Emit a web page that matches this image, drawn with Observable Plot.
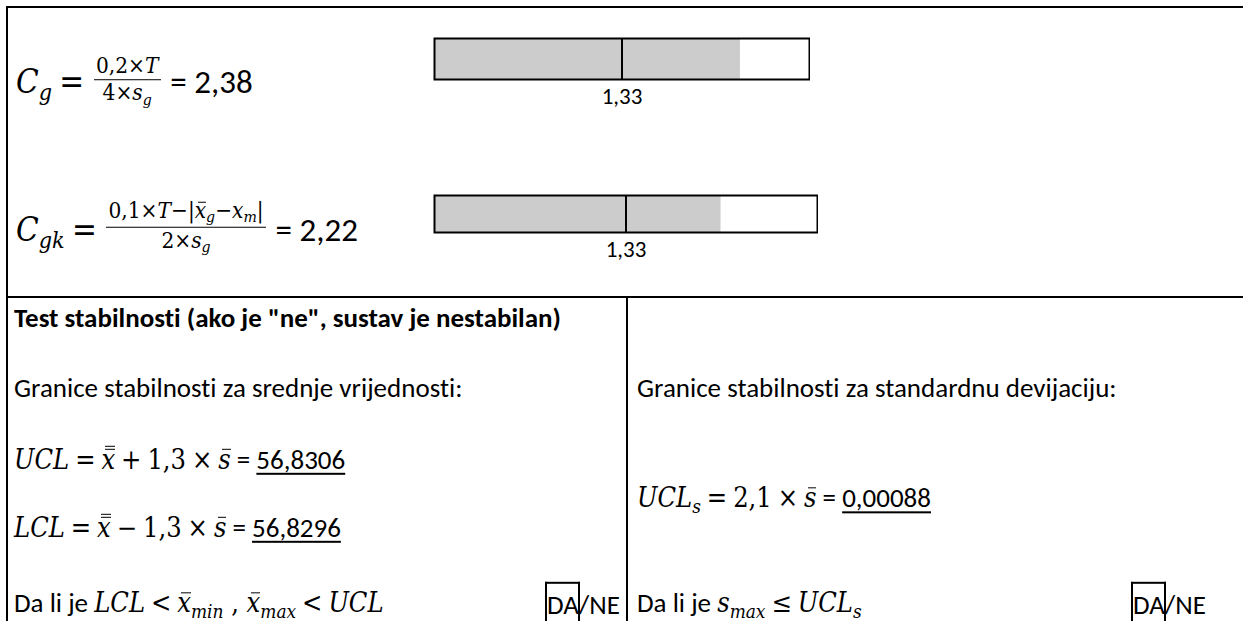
<!DOCTYPE html>
<html>
<head>
<meta charset="utf-8">
<script src="https://cdn.jsdelivr.net/npm/d3@7"></script>
<script src="https://cdn.jsdelivr.net/npm/@observablehq/plot@0.6"></script>
<style>
  html, body { margin:0; padding:0; background:#fff; }
  #page { position:relative; width:1243px; height:621px; overflow:hidden; background:#fff; color:#000;
          font-family: Carlito, Calibri, Lato, sans-serif; font-size:27px; font-variant-ligatures:none; }
  .line { position:absolute; background:#000; }
  .row { position:absolute; white-space:nowrap; line-height:1.2; transform:translateY(-50%); }
  .big { font-size:33px; }
  .m { font-family:"DejaVu Serif Condensed","DejaVu Serif",serif; font-style:italic; }
  .mu { font-family:"DejaVu Serif Condensed","DejaVu Serif",serif; font-style:normal; }
  .op { margin:0 0.22em; }
  .sub { font-size:0.7em; vertical-align:-0.3em; }
  .frac { display:inline-block; text-align:center; font-size:0.68em; vertical-align:-0.3em; margin:0 0.1em; }
  .frac > span { display:block; line-height:1.15; padding:0 0.1em; }
  .frac > .num { border-bottom:1.5px solid #000; }
  .ov, .ov2 { position:relative; display:inline-block; }
  .ov::before { content:""; position:absolute; left:0.15em; right:0; top:0.2em; border-top:1.5px solid #000; }
  .ov2::before { content:""; position:absolute; left:0.15em; right:0; top:0.08em; height:2px; border-top:1.5px solid #000; border-bottom:1.5px solid #000; }
  u { text-decoration-thickness:2px; text-underline-offset:4px; }
  .chosen { position:relative; }
  .chosen::after { content:""; position:absolute; left:-2px; right:-1px; top:-0.22em; bottom:-200px; border:2px solid #000; border-bottom:none; }
  .gauge { position:absolute; }
  b { font-weight:700; }
</style>
</head>
<body>
<div id="page"></div>
<script>
// ---- data ----
const indexSubs = ["g", "gk"];                 // capability indices C_g, C_gk
const indexValues = [2.38, 2.22];               // computed values
const indexFills = [2.17, 1.99];                // grey fill end as drawn in the gauges
const gaugeMax = [2.66, 2.66];                  // gauge scale maximum
const threshold = 1.33;                         // required minimum
const limitNames = ["UCL", "LCL", "UCL_s"];
const limitFactors = [1.3, 1.3, 2.1];
const limitValues = [56.8306, 56.8296, 0.00088];
const answerOptions = ["DA", "NE"];
const answerChosen = ["DA", "DA"];
const texts = {
  title: 'Test stabilnosti (ako je "ne", sustav je nestabilan)',
  meanHead: "Granice stabilnosti za srednje vrijednosti:",
  sdHead: "Granice stabilnosti za standardnu devijaciju:",
  ask: "Da li je "
};

const fmt = v => String(v).replace(".", ",");
const page = document.getElementById("page");

// ---- layout (positions only) ----
function line(l, t, w, h) {
  const d = document.createElement("div");
  d.className = "line";
  Object.assign(d.style, {left: l + "px", top: t + "px", width: w + "px", height: h + "px"});
  page.appendChild(d);
}
line(6, 6, 1237, 2);
line(6, 6, 2, 615);
line(6, 296, 1237, 2);
line(626, 296, 2, 325);

function row(l, cy, html, cls) {
  const d = document.createElement("div");
  d.className = "row" + (cls ? " " + cls : "");
  d.style.left = l + "px";
  d.style.top = cy + "px";
  d.innerHTML = html;
  page.appendChild(d);
  return d;
}

const M = s => `<span class="m">${s}</span>`;
const U = s => `<span class="mu">${s}</span>`;
const OP = s => `<span class="mu op">${s}</span>`;
const SUB = s => `<span class="sub">${s}</span>`;
const XBAR = `<span class="ov">x</span>`;
const XBB = `<span class="ov2">x</span>`;
const SBAR = `<span class="ov">s</span>`;

// capability formulas
const cgFrac = `<span class="frac m"><span class="num">${U("0,2×")}T</span><span class="den">${U("4×")}s${SUB("g")}</span></span>`;
const cgkFrac = `<span class="frac m"><span class="num">${U("0,1×")}T${U("−|")}${XBAR}${SUB("g")}${U("−")}x${SUB("m")}${U("|")}</span><span class="den">${U("2×")}s${SUB("g")}</span></span>`;
row(16, 81, `${M("C" + SUB(indexSubs[0]))}${OP("=")}${cgFrac} = ${fmt(indexValues[0])}`, "big");
row(16, 227, `${M("C" + SUB(indexSubs[1]))}${OP("=")}${cgkFrac} = ${fmt(indexValues[1])}`, "big");

// gauges drawn by Plot
const gaugeBoxes = [
  {left: 433, top: 37, width: 377, height: 42 + 34},
  {left: 433, top: 194, width: 385, height: 38 + 34}
];
indexValues.forEach((v, i) => {
  const g = gaugeBoxes[i];
  const svg = Plot.plot({
    width: g.width,
    height: g.height,
    marginLeft: 1, marginRight: 1, marginTop: 1, marginBottom: 34,
    style: {fontFamily: "Carlito, Calibri, Lato, sans-serif", fontSize: "23px", color: "#000", background: "transparent"},
    x: {domain: [0, gaugeMax[i]], ticks: [threshold], tickFormat: fmt, tickSize: 0, tickPadding: 8, label: null},
    marks: [
      Plot.rectX([indexFills[i]], {x1: 0, x2: d => d, fill: "#cccccc"}),
      Plot.ruleX([threshold], {stroke: "#000", strokeWidth: 2}),
      Plot.frame({stroke: "#000", strokeWidth: 2})
    ]
  });
  const wrap = document.createElement("div");
  wrap.className = "gauge";
  wrap.style.left = g.left + "px";
  wrap.style.top = g.top + "px";
  wrap.appendChild(svg);
  page.appendChild(wrap);
});

// stability test
row(14, 318, `<b>${texts.title}</b>`);
row(14, 388, texts.meanHead);
row(637, 388, texts.sdHead);

const limitRow = i => {
  const name = limitNames[i].startsWith("UCL_") ? M("UCL" + SUB("s")) : M(limitNames[i]);
  const sign = i === 1 ? "−" : "+";
  if (i < 2) {
    return `${name}${OP("=")}${M(XBB)}${OP(sign)}${U(fmt(limitFactors[i]))}${OP("×")}${M(SBAR)} = <u>${fmt(limitValues[i])}</u>`;
  }
  return `${name}${OP("=")}${U(fmt(limitFactors[i]))}${OP("×")}${M(SBAR)} = <u>${fmt(limitValues[i])}</u>`;
};
row(14, 460, limitRow(0));
row(14, 528, limitRow(1));
row(637, 500, limitRow(2));

const answer = k => answerOptions.map(o => o === answerChosen[k] ? `<span class="chosen">${o}</span>` : o).join("/");
row(14, 605, `${texts.ask}${M("LCL")}${OP("&lt;")}${M(XBAR + SUB("min"))}${U(" , ")}${M(XBAR + SUB("max"))}${OP("&lt;")}${M("UCL")}`);
row(547, 605, answer(0));
row(637, 605, `${texts.ask}${M("s" + SUB("max"))}${OP("≤")}${M("UCL" + SUB("s"))}`);
row(1133, 605, answer(1));
</script>
</body>
</html>
